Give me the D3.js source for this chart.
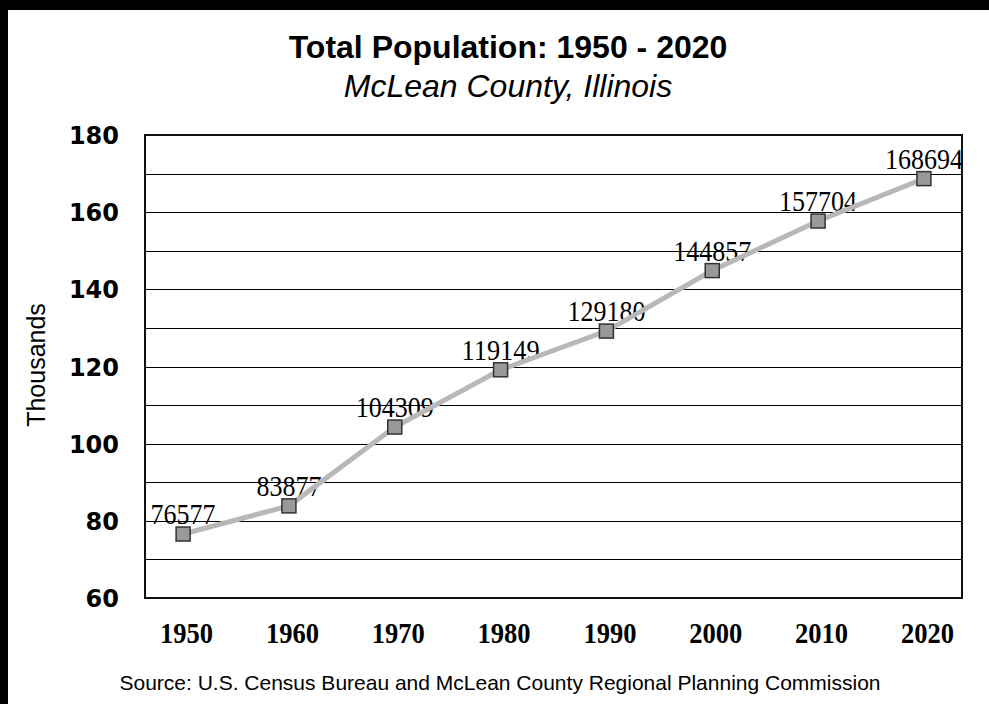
<!DOCTYPE html>
<html><head><meta charset="utf-8">
<script src="https://cdn.jsdelivr.net/npm/d3@7"></script>
<style>html,body{margin:0;padding:0;background:#fff;}svg{display:block;}</style>
</head><body>
<script>
const years = ["1950","1960","1970","1980","1990","2000","2010","2020"];
const population = [76577, 83877, 104309, 119149, 129180, 144857, 157704, 168694];
const yTickLabels = [60, 80, 100, 120, 140, 160, 180];
const gridValues = [70, 90, 110, 130, 150, 170];
const titleText = "Total Population: 1950 - 2020";
const subtitleText = "McLean County, Illinois";
const yAxisTitle = "Thousands";
const sourceText = "Source: U.S. Census Bureau and McLean County Regional Planning Commission";

(function(){
const W = 989, H = 704;
const svg = d3.select("body").append("svg").attr("width", W).attr("height", H);
svg.append("rect").attr("width", W).attr("height", H).attr("fill", "#000");
svg.append("rect").attr("x", 8).attr("y", 10).attr("width", W - 8).attr("height", H - 10).attr("fill", "#fff");

const pL = 145, pR = 962, pT = 135, pB = 598;
const x = d3.scalePoint().domain(years).range([pL, pR]).padding(0.36);
const y = d3.scaleLinear().domain([60, 180]).range([pB, pT]);

// gridlines
svg.append("g").selectAll("line").data(yTickLabels.concat(gridValues)).join("line")
  .attr("x1", pL).attr("x2", pR)
  .attr("y1", d => Math.round(y(d)) + 0.5).attr("y2", d => Math.round(y(d)) + 0.5)
  .attr("stroke", "#000").attr("stroke-width", 1.2);

// plot border
svg.append("rect").attr("x", pL).attr("y", pT).attr("width", pR - pL).attr("height", pB - pT)
  .attr("fill", "none").attr("stroke", "#111").attr("stroke-width", 2);

// y axis labels
const yAxis = d3.axisLeft(y).tickValues(yTickLabels).tickSize(0).tickPadding(0).tickFormat(d3.format("d"));
const ya = svg.append("g").attr("transform", "translate(119,0)").call(yAxis);
ya.select(".domain").remove();
ya.selectAll("text").attr("font-family", "DejaVu Sans").attr("font-weight", "bold")
  .attr("font-size", 24).attr("fill", "#000").attr("dy", "0.36em");

// x axis labels
const xAxis = d3.axisBottom(x).tickSize(0).tickPadding(0);
const xa = svg.append("g").attr("transform", "translate(3,0)").call(xAxis);
xa.select(".domain").remove();
xa.selectAll("text").attr("font-family", "Liberation Serif").attr("font-weight", "bold")
  .attr("font-size", 30).attr("fill", "#000").attr("y", 643).attr("dy", 0)
  .attr("textLength", 53).attr("lengthAdjust", "spacingAndGlyphs");

// value labels
svg.append("g").selectAll("text").data(years).join("text")
  .attr("x", d => x(d))
  .attr("y", (d, i) => y(population[i] / 1000) - 10)
  .attr("text-anchor", "middle")
  .attr("font-family", "Liberation Serif").attr("font-size", 30)
  .attr("textLength", (d, i) => String(population[i]).length * 13)
  .attr("lengthAdjust", "spacingAndGlyphs")
  .attr("fill", "#000")
  .text((d, i) => population[i]);

// line
const line = d3.line().x((d, i) => x(years[i])).y(d => y(d / 1000));
svg.append("path").datum(population).attr("d", line)
  .attr("fill", "none").attr("stroke", "#b8b8b8").attr("stroke-width", 5);

// markers
const ms = 14;
svg.append("g").selectAll("rect").data(population).join("rect")
  .attr("x", (d, i) => x(years[i]) - ms / 2)
  .attr("y", d => y(d / 1000) - ms / 2)
  .attr("width", ms).attr("height", ms)
  .attr("fill", "#999").attr("stroke", "#333").attr("stroke-width", 1.5);

// titles
svg.append("text").attr("x", 508).attr("y", 58).attr("text-anchor", "middle")
  .attr("font-family", "Liberation Sans").attr("font-weight", "bold").attr("font-size", 32)
  .text(titleText);
svg.append("text").attr("x", 508).attr("y", 97).attr("text-anchor", "middle")
  .attr("font-family", "Liberation Sans").attr("font-style", "italic").attr("font-size", 32)
  .text(subtitleText);
svg.append("text").attr("transform", "translate(45,365) rotate(-90)").attr("text-anchor", "middle")
  .attr("font-family", "Liberation Sans").attr("font-size", 25)
  .text(yAxisTitle);
svg.append("text").attr("x", 500).attr("y", 690).attr("text-anchor", "middle")
  .attr("font-family", "Liberation Sans").attr("font-size", 21)
  .text(sourceText);
})();
</script>
</body></html>
